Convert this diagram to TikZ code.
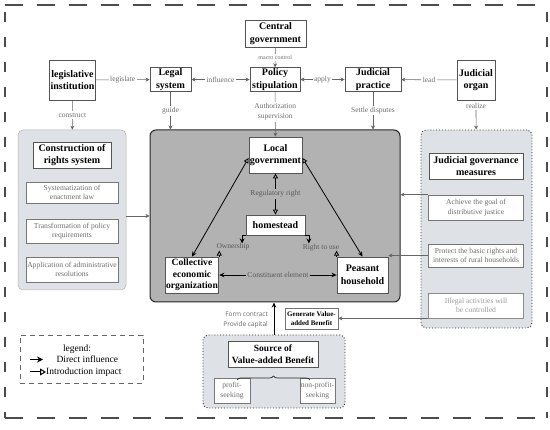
\documentclass[tikz,border=0pt]{standalone}
\usepackage{fontspec}
\setmainfont{Liberation Serif}
\newfontfamily\sansf{Open Sans}
\usetikzlibrary{arrows.meta,decorations.pathreplacing,calc}
\definecolor{mainfill}{RGB}{178,178,178}
\definecolor{lightfill}{RGB}{222,225,229}
\definecolor{lbl}{RGB}{110,110,110}
\definecolor{bordc}{RGB}{85,85,85}
\tikzset{
 title/.style={draw=bordc, fill=white, line width=0.8pt, align=center, font=\bfseries\fontsize{10}{12.5}\selectfont, inner sep=1pt},
 sub/.style={draw=bordc!80, fill=white, line width=0.6pt, align=center, text=lbl, font=\fontsize{7.6}{9.5}\selectfont, inner sep=1pt},
 elabel/.style={fill=white, text=lbl, font=\fontsize{7.5}{9.5}\selectfont, inner sep=1.5pt, align=center},
 glabel/.style={fill=mainfill, text=black!65, font=\fontsize{7.6}{9}\selectfont, inner sep=1.5pt},
 conn/.style={draw=black!60, line width=0.6pt},
 da/.style={-{Stealth[length=4pt,width=4pt]}},
 dd/.style={{Stealth[length=4pt,width=4pt]}-{Stealth[length=4pt,width=4pt]}},
 heavy/.style={draw=black, line width=0.8pt},
 oa/.style={-{Triangle[open,length=5pt,width=5pt]}},
 grp/.style={fill=lightfill, rounded corners=5pt},
}
\begin{document}
\begin{tikzpicture}[x=1pt,y=-1pt]
\useasboundingbox (0,0) rectangle (550,430);
% outer dashed frame
\draw[black!70, line width=1.1pt, dash pattern=on 18pt off 14pt] (5,5) -- (547,5);
\draw[black!70, line width=1.1pt, dash pattern=on 18pt off 14pt] (5,418) -- (547,418);
\draw[black!70, line width=1.1pt, dash pattern=on 10pt off 15pt] (5,12) -- (5,418);
\draw[black!70, line width=1.1pt, dash pattern=on 10pt off 15pt] (547,12) -- (547,418);

% top row
\node[title, minimum width=45, minimum height=40] (leg) at (72.5,80) {legislative\\institution};
\node[title, minimum width=41, minimum height=23] (legal) at (170.5,79.5) {Legal\\system};
\node[title, minimum width=50, minimum height=23] (policy) at (275,79.5) {Policy\\stipulation};
\node[title, minimum width=61, minimum height=27] (central) at (275.5,33.5) {Central\\government};
\node[title, minimum width=56, minimum height=23] (jprac) at (373,79.5) {Judicial\\practice};
\node[title, minimum width=38, minimum height=40] (jorg) at (476,80) {Judicial\\organ};

\draw[conn,da] (leg) -- node[elabel]{legislate} (legal);
\draw[conn,dd] (legal) -- node[elabel]{influence} (policy);
\draw[conn,dd] (policy) -- node[elabel]{apply} (jprac);
\draw[conn,da] (jorg) -- node[elabel]{lead} (jprac);
\draw[conn,da] (central) -- node[elabel, font=\fontsize{6}{7}\selectfont]{macro control} (policy);

% main gray box
\node[draw=black!85, fill=mainfill, rounded corners=6pt, line width=1pt, minimum width=250, minimum height=172] (main) at (275,216) {};

% construction group
\node[grp, draw=black!30, line width=0.5pt, minimum width=108, minimum height=160] (cons) at (72,210) {};
\node[title, minimum width=78, minimum height=26] (ctitle) at (72,155) {Construction of\\rights system};
\node[sub, minimum width=92, minimum height=21] (c1) at (72,192.5) {Systematization of\\enactment law};
\node[sub, minimum width=92, minimum height=24] (c2) at (72,231) {Transformation of policy\\requirements};
\node[sub, minimum width=92, minimum height=25] (c3) at (72,269.5) {Application of administrative\\resolutions};

% judicial governance group
\node[grp, draw=black!85, dotted, line width=0.9pt, minimum width=111, minimum height=198] (jgov) at (476.5,229) {};
\node[title, minimum width=94, minimum height=26] (jtitle) at (476,166) {Judicial governance\\measures};
\node[sub, minimum width=95, minimum height=25] (a1) at (476,207.5) {Achieve the goal of\\distributive justice};
\node[sub, minimum width=95, minimum height=23] (a2) at (476,255.5) {Protect the basic rights and\\interests of rural households};
\node[sub, draw=black!45, text=black!40, minimum width=95, minimum height=25] (a3) at (476,305.5) {Illegal activities will\\be controlled};

% vertical connectors from top row
\draw[conn,da] (leg) -- node[elabel, pos=0.5]{construct} (cons);
\draw[conn,da] (legal.south) -- node[elabel]{guide} (legal.south |- main.north);
\draw[conn,da] (jprac.south) -- node[elabel]{Settle disputes} (jprac.south |- main.north);
\node[elabel] (realize) at (476,105.5) {realize};
\draw[conn,da] (realize) -- (jgov);

% inside main
\node[title, minimum width=53, minimum height=36] (lg) at (275.5,155) {Local\\government};
\node[title, minimum width=59, minimum height=20] (home) at (275.5,225) {homestead};
\node[title, font=\bfseries\fontsize{9.6}{11.5}\selectfont, minimum width=52, minimum height=36] (coll) at (192,275) {Collective\\economic\\organization};
\node[title, minimum width=51, minimum height=36] (peas) at (362.5,275) {Peasant\\household};

\draw[conn,da] (policy) -- node[elabel, pos=0.45]{Authorization\\supervision} (lg);

\draw[heavy, {Triangle[open,length=5pt,width=5pt]}-{Triangle[open,length=5pt,width=5pt]}] (lg) -- node[glabel]{Regulatory right} (home);
\draw[heavy, {Stealth[length=5pt,width=4.5pt]}-{Stealth[length=5pt,width=4.5pt]}] (coll) -- node[glabel]{Constituent element} (peas);
\draw[heavy, {Stealth[length=5pt,width=4.5pt]}-{Triangle[open,length=5pt,width=5pt]}] (coll.north) -- ($(lg.west)+(0,3)$);
\draw[heavy, {Stealth[length=5pt,width=4.5pt]}-{Triangle[open,length=5pt,width=5pt]}] (peas.north) -- ($(lg.east)+(0,3)$);

\draw[heavy, -{Stealth[length=5pt,width=5pt]}] (home.south west) -- ++(-3.5,0) -- ++(0,8);
\draw[heavy, -{Stealth[length=5pt,width=5pt]}] (home.south east) -- ++(3.5,0) -- ++(0,8);
\draw[heavy, oa] (coll.north east) -- ++(0,-6);
\draw[heavy, oa] (peas.north west) -- ++(0,-6);
\node[text=black!65, font=\fontsize{7.5}{9}\selectfont, inner sep=0pt] (own) at (233,247) {Ownership};
\node[text=black!65, font=\fontsize{7.5}{9}\selectfont, inner sep=0pt] (rtu) at (321,247.5) {Right to use};

% connectors from left / right groups
\draw[conn,da] (cons.east |- main.west) -- (main.west);
\draw[conn,da] (a1.north west) -- (main.east |- a1.north west);
\draw[conn,da] (a2.west) -- (a2.west -| peas.east);

% generate box
\node[title, draw=black!55, line width=0.6pt, font=\bfseries\fontsize{7}{9}\selectfont, minimum width=53, minimum height=21] (gen) at (311.5,318.5) {Generate Value-\\added Benefit};
\draw[conn,da] (a3.south west) -- (a3.south west -| gen.east);

% source group
\node[grp, draw=black!85, dotted, line width=0.9pt, minimum width=142, minimum height=73] (src) at (274,371.5) {};
\node[title, font=\bfseries\fontsize{9.5}{12}\selectfont, minimum width=90, minimum height=26] (stitle) at (273,354) {Source of\\Value-added Benefit};
\node[sub, minimum width=36, minimum height=25] (prof) at (232,390.5) {profit-\\seeking};
\node[sub, minimum width=35, minimum height=25] (nprof) at (317.5,390.5) {non-profit-\\seeking};
\draw[black!85, line width=0.7pt, decorate, decoration={brace, amplitude=4pt}] (237,380) -- (310,380);
\draw[heavy, -{Stealth[length=5pt,width=4.5pt]}] (src.north) -- (src.north |- main.south);
\node[anchor=east, align=right, text=black!60, font=\sansf\fontsize{6.5}{9.5}\selectfont, inner sep=0pt] (fc) at (268,320) {Form contract\\Provide capital};

% legend
\node[draw=black!60, dash pattern=on 5pt off 4pt, line width=0.7pt, minimum width=123, minimum height=48] (legend) at (81.5,359) {};
\node[font=\fontsize{9.5}{11}\selectfont] (lt) at (77,349) {legend:};
\coordinate (la1) at (30,359.5);
\coordinate (la2) at (43,359.5);
\draw[line width=1pt, -{Stealth[length=6pt,width=6pt]}] (la1) -- (la2);
\node[anchor=west, font=\fontsize{9.5}{11}\selectfont] (ld) at (53,359.5) {Direct influence};
\coordinate (lb1) at (30,372);
\coordinate (lb2) at (46,372);
\draw[line width=1pt, -{Triangle[open,length=6pt,width=7pt]}] (lb1) -- (lb2);
\node[anchor=west, font=\fontsize{9.5}{11}\selectfont, inner sep=1pt] (li) at (45,372) {Introduction impact};
\end{tikzpicture}
\end{document}
